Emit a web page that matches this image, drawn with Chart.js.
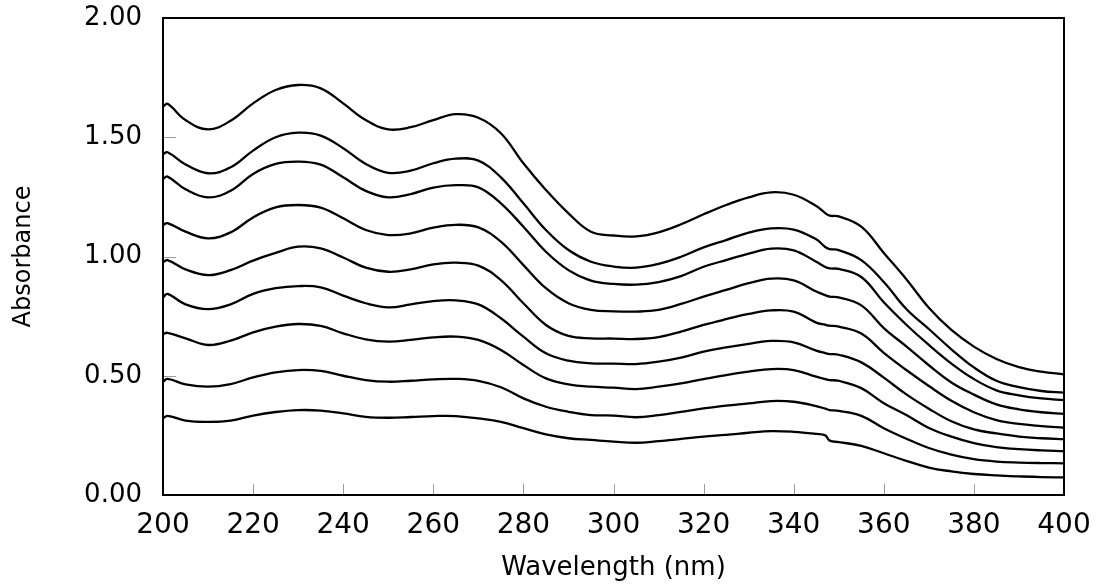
<!DOCTYPE html>
<html>
<head>
<meta charset="utf-8">
<title>Absorbance spectra</title>
<script src="https://cdn.jsdelivr.net/npm/chart.js@4.4.1/dist/chart.umd.min.js"></script>
<style>
  html, body { margin: 0; padding: 0; background: #fff; }
  #wrap { width: 1105px; height: 587px; }
</style>
</head>
<body>
<div id="wrap"><canvas id="spectraChart" width="1105" height="587"></canvas></div>
<script>
// wavelength grid (nm)
const wavelengths = [200, 201, 205, 210, 215, 220, 225, 230, 235, 240, 245, 250, 255, 260, 265, 270, 275, 280, 285, 290, 295, 300, 305, 310, 315, 320, 325, 330, 335, 340, 345, 347, 348, 350, 355, 360, 365, 370, 375, 380, 385, 390, 395, 400];

// absorbance per scan, highest first
const scan1 = [1.628, 1.640, 1.572, 1.533, 1.569, 1.642, 1.698, 1.719, 1.705, 1.642, 1.572, 1.533, 1.542, 1.572, 1.597, 1.582, 1.517, 1.391, 1.279, 1.181, 1.104, 1.088, 1.084, 1.101, 1.135, 1.177, 1.216, 1.248, 1.269, 1.259, 1.212, 1.182, 1.171, 1.168, 1.125, 1.015, 0.905, 0.785, 0.692, 0.622, 0.570, 0.536, 0.517, 0.506];
const scan2 = [1.428, 1.437, 1.386, 1.349, 1.374, 1.444, 1.500, 1.519, 1.507, 1.454, 1.388, 1.351, 1.360, 1.391, 1.410, 1.402, 1.332, 1.223, 1.111, 1.027, 0.978, 0.958, 0.953, 0.969, 0.999, 1.038, 1.069, 1.100, 1.118, 1.113, 1.072, 1.040, 1.031, 1.027, 0.985, 0.893, 0.780, 0.696, 0.611, 0.535, 0.479, 0.452, 0.436, 0.429];
const scan3 = [1.325, 1.335, 1.282, 1.248, 1.276, 1.346, 1.388, 1.398, 1.385, 1.332, 1.275, 1.248, 1.262, 1.289, 1.299, 1.290, 1.223, 1.125, 1.020, 0.943, 0.899, 0.885, 0.882, 0.893, 0.918, 0.957, 0.985, 1.012, 1.033, 1.026, 0.978, 0.956, 0.950, 0.948, 0.914, 0.808, 0.714, 0.629, 0.551, 0.486, 0.439, 0.418, 0.405, 0.398];
const scan4 = [1.132, 1.140, 1.104, 1.076, 1.101, 1.164, 1.206, 1.216, 1.205, 1.160, 1.111, 1.090, 1.097, 1.121, 1.133, 1.122, 1.062, 0.964, 0.867, 0.804, 0.776, 0.770, 0.769, 0.776, 0.801, 0.832, 0.860, 0.888, 0.907, 0.900, 0.853, 0.838, 0.832, 0.829, 0.795, 0.700, 0.623, 0.544, 0.472, 0.421, 0.380, 0.359, 0.347, 0.340];
const scan5 = [0.975, 0.985, 0.946, 0.922, 0.943, 0.983, 1.015, 1.041, 1.034, 0.996, 0.953, 0.936, 0.946, 0.967, 0.974, 0.962, 0.901, 0.804, 0.713, 0.667, 0.657, 0.656, 0.654, 0.662, 0.685, 0.713, 0.737, 0.759, 0.774, 0.769, 0.723, 0.714, 0.710, 0.706, 0.677, 0.596, 0.524, 0.457, 0.395, 0.347, 0.314, 0.298, 0.289, 0.282];
const scan6 = [0.828, 0.843, 0.799, 0.779, 0.799, 0.843, 0.867, 0.876, 0.871, 0.836, 0.804, 0.787, 0.799, 0.813, 0.816, 0.799, 0.741, 0.664, 0.594, 0.563, 0.552, 0.551, 0.549, 0.559, 0.576, 0.601, 0.619, 0.634, 0.646, 0.640, 0.605, 0.595, 0.591, 0.588, 0.556, 0.492, 0.422, 0.362, 0.309, 0.275, 0.258, 0.245, 0.238, 0.234];
const scan7 = [0.675, 0.680, 0.657, 0.629, 0.647, 0.682, 0.706, 0.717, 0.709, 0.678, 0.653, 0.643, 0.650, 0.661, 0.664, 0.650, 0.608, 0.545, 0.489, 0.464, 0.454, 0.450, 0.444, 0.454, 0.468, 0.486, 0.503, 0.517, 0.528, 0.524, 0.496, 0.486, 0.482, 0.479, 0.448, 0.385, 0.335, 0.281, 0.245, 0.218, 0.201, 0.192, 0.187, 0.184];
const scan8 = [0.475, 0.487, 0.464, 0.454, 0.465, 0.493, 0.514, 0.524, 0.520, 0.500, 0.482, 0.475, 0.479, 0.485, 0.487, 0.479, 0.452, 0.405, 0.370, 0.349, 0.335, 0.333, 0.326, 0.335, 0.349, 0.363, 0.375, 0.384, 0.394, 0.391, 0.373, 0.362, 0.356, 0.353, 0.332, 0.280, 0.236, 0.197, 0.169, 0.150, 0.140, 0.136, 0.134, 0.133];
const scan9 = [0.322, 0.332, 0.312, 0.307, 0.312, 0.333, 0.348, 0.356, 0.354, 0.342, 0.328, 0.324, 0.327, 0.331, 0.331, 0.321, 0.307, 0.280, 0.254, 0.238, 0.231, 0.224, 0.219, 0.226, 0.235, 0.245, 0.252, 0.261, 0.268, 0.265, 0.256, 0.250, 0.228, 0.222, 0.206, 0.175, 0.143, 0.115, 0.099, 0.088, 0.082, 0.078, 0.075, 0.074];

// axis ticks
const xTicks = [200, 220, 240, 260, 280, 300, 320, 340, 360, 380, 400];
const yTicks = [0, 0.5, 1.0, 1.5, 2.0];

const FONT = "'DejaVu Sans', 'Liberation Sans', Arial, sans-serif";

function toPoints(values) {
  return values.map((v, i) => ({ x: wavelengths[i], y: v }));
}

function makeDataset(values) {
  return {
    data: toPoints(values),
    borderColor: '#000',
    borderWidth: 2.3,
    pointRadius: 0,
    fill: false,
    tension: 0.4,
  };
}

// short grey ticks on the inside of the frame, then the frame itself
const frameAndTicks = {
  id: 'frameAndTicks',
  afterDatasetsDraw(chart) {
    const { ctx, chartArea: a, scales } = chart;
    ctx.save();
    ctx.strokeStyle = '#9a9a9a';
    ctx.lineWidth = 1;
    ctx.beginPath();
    xTicks.slice(1, -1).forEach((t) => {
      const px = Math.round(scales.x.getPixelForValue(t)) + 0.5;
      ctx.moveTo(px, a.bottom);
      ctx.lineTo(px, a.bottom - 11);
    });
    yTicks.slice(1, -1).forEach((t) => {
      const py = Math.round(scales.y.getPixelForValue(t)) + 0.5;
      ctx.moveTo(a.left, py);
      ctx.lineTo(a.left + 13, py);
    });
    ctx.stroke();

    ctx.strokeStyle = '#000';
    ctx.lineWidth = 2;
    ctx.strokeRect(a.left, a.top, a.right - a.left, a.bottom - a.top);
    ctx.restore();
  },
};

const ctx = document.getElementById('spectraChart').getContext('2d');
new Chart(ctx, {
  type: 'line',
  data: {
    datasets: [scan1, scan2, scan3, scan4, scan5, scan6, scan7, scan8, scan9].map(makeDataset),
  },
  options: {
    responsive: false,
    animation: false,
    layout: { padding: { top: 18, right: 41, bottom: 0, left: 0 } },
    plugins: {
      legend: { display: false },
      tooltip: { enabled: false },
    },
    scales: {
      x: {
        type: 'linear',
        min: 200,
        max: 400,
        afterBuildTicks: (scale) => { scale.ticks = xTicks.map((v) => ({ value: v })); },
        afterFit: (scale) => {
          scale.height = 92;
          scale.paddingLeft = 0;
          scale.paddingRight = 0;
        },
        grid: { display: false, drawTicks: false },
        border: { display: false },
        ticks: {
          padding: 14,
          color: '#000',
          font: { family: FONT, size: 28 },
          maxRotation: 0,
          callback: (v) => String(v),
        },
        title: {
          display: true,
          text: 'Wavelength (nm)',
          color: '#000',
          font: { family: FONT, size: 26 },
          padding: { top: 0, bottom: 3 },
        },
      },
      y: {
        type: 'linear',
        min: 0,
        max: 2,
        afterBuildTicks: (scale) => { scale.ticks = yTicks.map((v) => ({ value: v })); },
        afterFit: (scale) => {
          scale.width = 163;
          scale.paddingTop = 0;
          scale.paddingBottom = 0;
        },
        grid: { display: false, drawTicks: false },
        border: { display: false },
        ticks: {
          padding: 21,
          color: '#000',
          font: { family: FONT, size: 26 },
          callback: (v) => Number(v).toFixed(2),
        },
        title: {
          display: true,
          text: 'Absorbance',
          color: '#000',
          font: { family: FONT, size: 24 },
          padding: { top: 9, bottom: 0 },
        },
      },
    },
  },
  plugins: [frameAndTicks],
});
</script>
</body>
</html>
